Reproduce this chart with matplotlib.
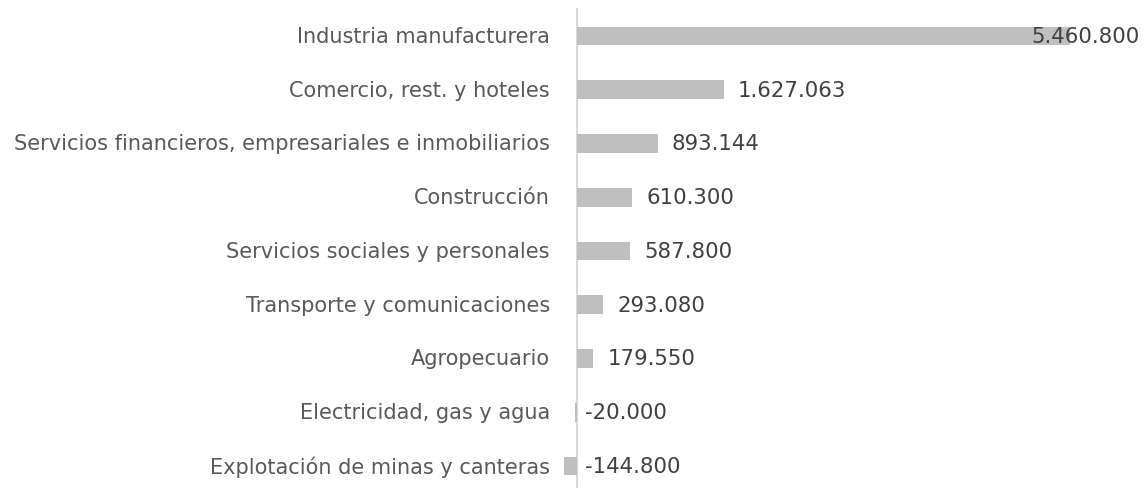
import matplotlib
matplotlib.use("Agg")
import matplotlib.pyplot as plt

categories = [
    "Industria manufacturera",
    "Comercio, rest. y hoteles",
    "Servicios financieros, empresariales e inmobiliarios",
    "Construcción",
    "Servicios sociales y personales",
    "Transporte y comunicaciones",
    "Agropecuario",
    "Electricidad, gas y agua",
    "Explotación de minas y canteras",
]
values = [5460800, 1627063, 893144, 610300, 587800, 293080, 179550, -20000, -144800]
value_labels = ["5.460.800", "1.627.063", "893.144", "610.300", "587.800",
                "293.080", "179.550", "-20.000", "-144.800"]

plt.rcParams['font.family'] = ['DejaVu Sans']

W, H = 1145, 489
fig = plt.figure(figsize=(W / 100, H / 100), dpi=100)
ax_left_px, ax_right_px = 560, 1140
ax_top_px, ax_bot_px = 9, 489
ax = fig.add_axes([ax_left_px / W, 1 - ax_bot_px / H,
                   (ax_right_px - ax_left_px) / W, (ax_bot_px - ax_top_px) / H])

scale = 493 / 5460800  # px per unit
xmin = -(577 - ax_left_px) / scale
xmax = (ax_right_px - 577) / scale

y = list(range(len(categories)))
ax.barh(y, values, height=0.35, color="#BFBFBF", zorder=2)
ax.axvline(0, color="#D9D9D9", linewidth=1.5, zorder=1)

ax.set_xlim(xmin, xmax)
ax.set_ylim(8.41, -0.52)

ax.set_yticks([])
ax.set_xticks([])
for s in ax.spines.values():
    s.set_visible(False)

dy = 0
for i, cat in enumerate(categories):
    ax.annotate(cat, xy=(xmin, i), xytext=(-10, dy), textcoords='offset pixels',
                ha='right', va='center', fontsize=15, color="#595959",
                annotation_clip=False)

for i, (v, lab) in enumerate(zip(values, value_labels)):
    if i == 0:
        ax.annotate(lab, xy=(xmax, i), xytext=(0, dy), textcoords='offset pixels',
                    ha='right', va='center', fontsize=15.3, color="#404040", zorder=3)
    else:
        off = 14 if v > 0 else 8
        ax.annotate(lab, xy=(max(v, 0), i), xytext=(off, dy), textcoords='offset pixels',
                    ha='left', va='center', fontsize=15.3, color="#404040", zorder=3)

fig.savefig("out.png", dpi=100)
